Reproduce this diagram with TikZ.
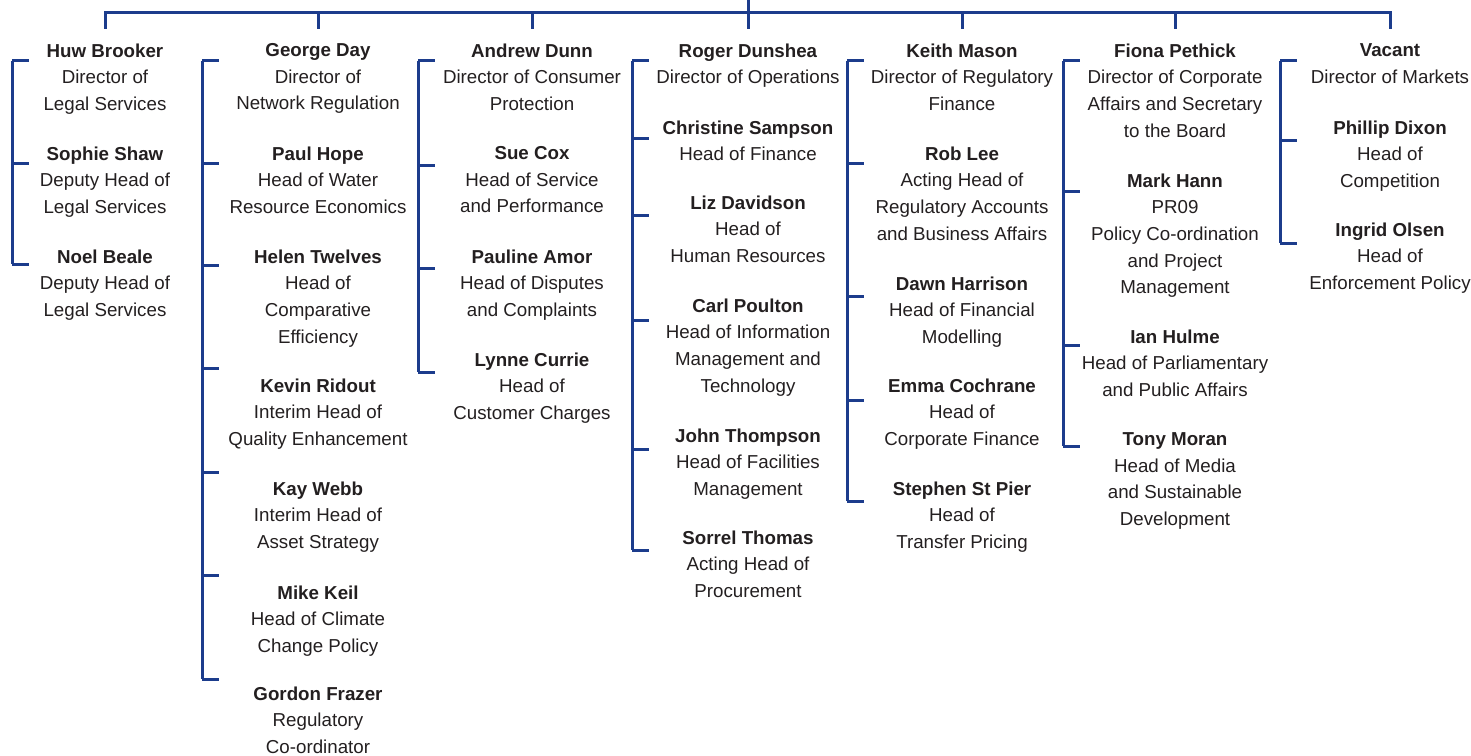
\documentclass[tikz,border=0pt]{standalone}
\usepackage{fontspec}
\setmainfont{Liberation Sans}
\definecolor{ink}{RGB}{35,31,32}
\definecolor{navy}{RGB}{28,60,140}
\begin{document}
\begin{tikzpicture}[x=1bp,y=-1bp,
  entry/.style={anchor=north, yshift=13.8pt, align=center, inner sep=0pt, text=ink,
    font=\fontsize{18.8pt}{26.8pt}\selectfont, execute at begin node=\strut},
  link/.style={draw=navy, line width=3bp}]
\useasboundingbox (0,0) rectangle (1471,755);

% ---------- column 1 ----------
\node[entry] (c1a) at (105,57)  {\textbf{Huw Brooker}\\Director of\\Legal Services};
\node[entry] (c1b) at (105,160) {\textbf{Sophie Shaw}\\Deputy Head of\\Legal Services};
\node[entry] (c1c) at (105,263) {\textbf{Noel Beale}\\Deputy Head of\\Legal Services};

% ---------- column 2 ----------
\node[entry] (c2a) at (318,57)  {\textbf{George Day}\\Director of\\Network Regulation};
\node[entry] (c2b) at (318,160) {\textbf{Paul Hope}\\Head of Water\\Resource Economics};
\node[entry] (c2c) at (318,263) {\textbf{Helen Twelves}\\Head of\\Comparative\\Efficiency};
\node[entry] (c2d) at (318,392) {\textbf{Kevin Ridout}\\Interim Head of\\Quality Enhancement};
\node[entry] (c2e) at (318,495) {\textbf{Kay Webb}\\Interim Head of\\Asset Strategy};
\node[entry] (c2f) at (318,599) {\textbf{Mike Keil}\\Head of Climate\\Change Policy};
\node[entry] (c2g) at (318,700) {\textbf{Gordon Frazer}\\Regulatory\\Co-ordinator};

% ---------- column 3 ----------
\node[entry] (c3a) at (532,57)  {\textbf{Andrew Dunn}\\Director of Consumer\\Protection};
\node[entry] (c3b) at (532,160) {\textbf{Sue Cox}\\Head of Service\\and Performance};
\node[entry] (c3c) at (532,263) {\textbf{Pauline Amor}\\Head of Disputes\\and Complaints};
\node[entry] (c3d) at (532,366) {\textbf{Lynne Currie}\\Head of\\Customer Charges};

% ---------- column 4 ----------
\node[entry] (c4a) at (748,57)  {\textbf{Roger Dunshea}\\Director of Operations};
\node[entry] (c4b) at (748,134) {\textbf{Christine Sampson}\\Head of Finance};
\node[entry] (c4c) at (748,209) {\textbf{Liz Davidson}\\Head of\\Human Resources};
\node[entry] (c4d) at (748,312) {\textbf{Carl Poulton}\\Head of Information\\Management and\\Technology};
\node[entry] (c4e) at (748,442) {\textbf{John Thompson}\\Head of Facilities\\Management};
\node[entry] (c4f) at (748,544) {\textbf{Sorrel Thomas}\\Acting Head of\\Procurement};

% ---------- column 5 ----------
\node[entry] (c5a) at (962,57)  {\textbf{Keith Mason}\\Director of Regulatory\\Finance};
\node[entry] (c5b) at (962,160) {\textbf{Rob Lee}\\Acting Head of\\Regulatory Accounts\\and Business Affairs};
\node[entry] (c5c) at (962,290) {\textbf{Dawn Harrison}\\Head of Financial\\Modelling};
\node[entry] (c5d) at (962,392) {\textbf{Emma Cochrane}\\Head of\\Corporate Finance};
\node[entry] (c5e) at (962,495) {\textbf{Stephen St Pier}\\Head of\\Transfer Pricing};

% ---------- column 6 ----------
\node[entry] (c6a) at (1175,57)  {\textbf{Fiona Pethick}\\Director of Corporate\\Affairs and Secretary\\to the Board};
\node[entry] (c6b) at (1175,187) {\textbf{Mark Hann}\\PR09\\Policy Co-ordination\\and Project\\Management};
\node[entry] (c6c) at (1175,343) {\textbf{Ian Hulme}\\Head of Parliamentary\\and Public Affairs};
\node[entry] (c6d) at (1175,446) {\textbf{Tony Moran}\\Head of Media\\and Sustainable\\Development};

% ---------- column 7 ----------
\node[entry] (c7a) at (1390,57)  {\textbf{Vacant}\\Director of Markets};
\node[entry] (c7b) at (1390,134) {\textbf{Phillip Dixon}\\Head of\\Competition};
\node[entry] (c7c) at (1390,236) {\textbf{Ingrid Olsen}\\Head of\\Enforcement Policy};

% ---------- top connector ----------
\coordinate (top) at (748,0);
\draw[link] (top) -- (748,29);
\draw[link] (105,29) |- (1390,13) -- (1390,29);
\foreach \cx in {318,532,962,1175} { \draw[link] (\cx,13) -- (\cx,29); }

% ---------- brackets ----------
\foreach \bx/\ticks in {12/{61,163,264},
                        202/{61,163,265,368,472,575,679},
                        418/{61,165,268,372},
                        632/{61,138,215,320,449,550},
                        847/{61,163,296,400,501},
                        1063/{61,191,345,446},
                        1280/{61,140,243}} {
  \foreach \ty [count=\k] in \ticks {
    \draw[link] (\bx,\ty) -- ++(17,0);
    \xdef\lastty{\ty}
  }
  \draw[link] (\bx,61) -- (\bx,\lastty);
}
\end{tikzpicture}
\end{document}
